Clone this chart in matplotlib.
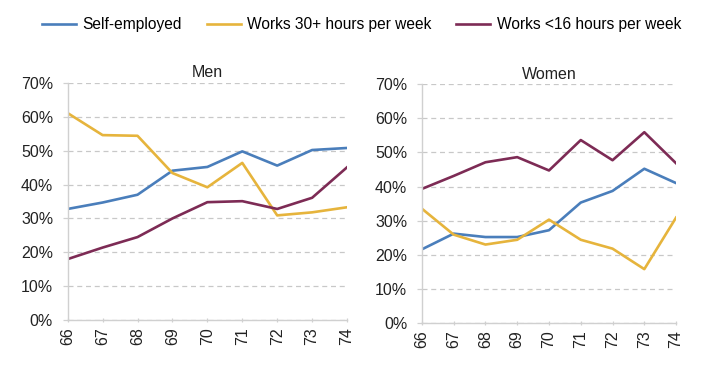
import matplotlib.pyplot as plt
from matplotlib.ticker import PercentFormatter

plt.rcParams['font.family'] = ['Liberation Sans', 'DejaVu Sans']

ages = [66, 67, 68, 69, 70, 71, 72, 73, 74]
series_names = ['Self-employed', 'Works 30+ hours per week', 'Works <16 hours per week']
colors = ['#4a7ebb', '#e6b43c', '#7d2b55']

men_self = [32.8, 34.7, 37.0, 44.1, 45.2, 49.8, 45.6, 50.2, 50.8]
men_30 = [61.1, 54.6, 54.4, 43.4, 39.2, 46.4, 30.9, 31.8, 33.3]
men_16 = [18.0, 21.4, 24.5, 30.0, 34.8, 35.1, 32.8, 36.1, 45.1]

women_self = [21.6, 26.2, 25.2, 25.2, 27.2, 35.3, 38.7, 45.2, 41.0]
women_30 = [33.5, 25.9, 23.0, 24.4, 30.3, 24.4, 21.8, 15.8, 30.9]
women_16 = [39.3, 43.1, 47.1, 48.6, 44.7, 53.6, 47.7, 55.9, 46.8]

fig = plt.figure(figsize=(7.2, 3.77), dpi=100)
ax1 = fig.add_axes([0.094, 0.151, 0.388, 0.629])
ax2 = fig.add_axes([0.586, 0.143, 0.353, 0.634])

panels = [(ax1, 'Men', [men_self, men_30, men_16]),
          (ax2, 'Women', [women_self, women_30, women_16])]

for ax, title, data in panels:
    for vals, name, c in zip(data, series_names, colors):
        ax.plot(ages, vals, color=c, lw=1.9, label=name)
    ax.set_xlim(66, 74)
    ax.set_ylim(0, 70)
    ax.set_yticks(range(0, 71, 10))
    ax.yaxis.set_major_formatter(PercentFormatter(decimals=0))
    ax.set_xticks(ages)
    ax.set_xticklabels([str(a) for a in ages], rotation=90)
    ax.grid(axis='y', color='#c8c8c8', linestyle=(0, (4, 3)), lw=0.9)
    ax.set_axisbelow(True)
    for s in ['top', 'right']:
        ax.spines[s].set_visible(False)
    for s in ['left', 'bottom']:
        ax.spines[s].set_color('#d0d0d0')
        ax.spines[s].set_linewidth(1.0)
    ax.tick_params(axis='y', length=3.5, width=0.9, color='#d0d0d0',
                   labelsize=11.5, labelcolor='#222222', pad=7)
    ax.tick_params(axis='x', length=3.5, width=0.9, color='#d0d0d0', direction='inout',
                   labelsize=11.5, labelcolor='#222222', pad=3.5)
    ax.set_title(title, fontsize=11.5, pad=4, color='#222222')

handles, labels = ax1.get_legend_handles_labels()
fig.legend(handles, labels, loc='center', bbox_to_anchor=(0.502, 0.935), ncol=3,
           frameon=False, fontsize=11.2, handlelength=2.2, columnspacing=1.6,
           handletextpad=0.4)

fig.savefig('out.png', dpi=100, facecolor='white')
